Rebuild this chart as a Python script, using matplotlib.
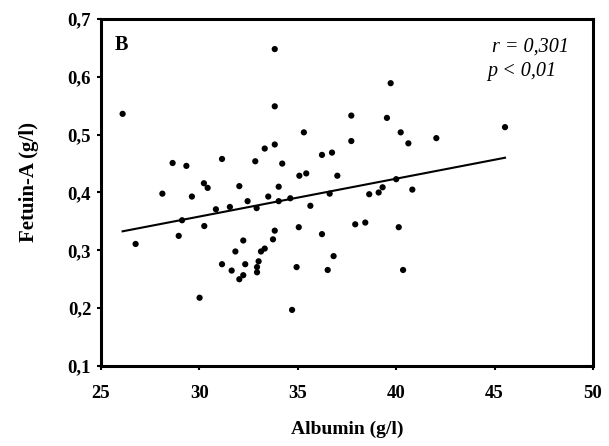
import matplotlib
matplotlib.use("Agg")
import matplotlib.pyplot as plt
import numpy as np

plt.rcParams['font.family'] = ['Liberation Serif', 'DejaVu Serif']

# Albumin (g/l) vs Fetuin-A (g/l)
albumin = [
    26.10, 33.83, 37.72, 35.31, 33.83, 33.32, 37.72, 28.64, 29.34, 31.15,
    32.84, 34.21, 36.23, 36.74, 35.08, 35.43, 37.01, 30.23, 30.42, 32.03,
    34.03, 28.12, 29.62, 32.45, 33.50, 34.03, 34.62, 36.62, 30.84, 31.55,
    32.91, 35.64, 29.12, 30.25, 28.95, 26.76, 33.83, 33.74, 35.05, 36.23,
    32.23, 31.83, 33.13, 33.32, 33.01, 32.93, 32.93, 31.15, 31.64, 32.33,
    32.23, 32.03, 34.94, 36.52, 36.82, 30.01, 34.71, 33.83, 39.72, 39.53,
    40.23, 40.62, 42.04, 45.53, 40.00, 39.31, 39.11, 38.63, 40.82, 37.92,
    38.43, 40.13, 40.35,
]
fetuin = [
    0.536, 0.549, 0.533, 0.504, 0.483, 0.476, 0.489, 0.451, 0.446, 0.458,
    0.454, 0.450, 0.465, 0.469, 0.429, 0.433, 0.429, 0.416, 0.408, 0.411,
    0.410, 0.398, 0.393, 0.385, 0.393, 0.385, 0.390, 0.398, 0.371, 0.375,
    0.373, 0.377, 0.352, 0.342, 0.325, 0.311, 0.334, 0.319, 0.340, 0.328,
    0.317, 0.298, 0.298, 0.303, 0.281, 0.271, 0.262, 0.276, 0.265, 0.276,
    0.257, 0.250, 0.271, 0.266, 0.290, 0.218, 0.197, 0.648, 0.589, 0.529,
    0.504, 0.485, 0.494, 0.513, 0.423, 0.409, 0.400, 0.397, 0.405, 0.345,
    0.348, 0.340, 0.266,
]

x_ticks = [25, 30, 35, 40, 45, 50]
y_ticks = [0.1, 0.2, 0.3, 0.4, 0.5, 0.6, 0.7]
y_tick_labels = ['0,1', '0,2', '0,3', '0,4', '0,5', '0,6', '0,7']

panel_label = 'B'
stats_lines = ['r = 0,301', 'p < 0,01']

x = np.array(albumin)
y = np.array(fetuin)
slope, intercept = np.polyfit(x, y, 1)
xfit = np.array([x.min(), x.max()])

fig = plt.figure(figsize=(6.09, 4.46), dpi=100)
ax = fig.add_axes([0.1658, 0.1794, 0.8079, 0.778])

ax.scatter(x, y, s=20, color='black', edgecolors='none', zorder=3)
ax.plot(xfit, intercept + slope * xfit, color='black', linewidth=1.5, zorder=2)

ax.set_xlim(25, 50)
ax.set_ylim(0.1, 0.7)
ax.set_xticks(x_ticks)
ax.set_xticklabels([str(t) for t in x_ticks])
ax.set_yticks(y_ticks)
ax.set_yticklabels(y_tick_labels)

for s in ax.spines.values():
    s.set_linewidth(2.2)
ax.tick_params(direction='out', length=3, width=1.5, labelsize=13.5)
ax.tick_params(axis='x', pad=11)
ax.tick_params(axis='y', pad=4)
for lab in ax.get_xticklabels() + ax.get_yticklabels():
    lab.set_fontweight('bold')

ax.set_xlabel('Albumin (g/l)', fontsize=14, fontweight='bold')
ax.set_ylabel('Fetuin-A (g/l)', fontsize=15, fontweight='bold')
ax.xaxis.set_label_coords(0.5, -0.158)
ax.yaxis.set_label_coords(-0.125, 0.53)

ax.text(0.027, 0.925, panel_label, transform=ax.transAxes, fontsize=14.5,
        fontweight='bold', va='center', ha='left')
ax.text(0.795, 0.92, stats_lines[0], transform=ax.transAxes, fontsize=14.5,
        style='italic', va='center', ha='left')
ax.text(0.785, 0.848, stats_lines[1], transform=ax.transAxes, fontsize=14.5,
        style='italic', va='center', ha='left')

fig.savefig('out.png', dpi=100)
